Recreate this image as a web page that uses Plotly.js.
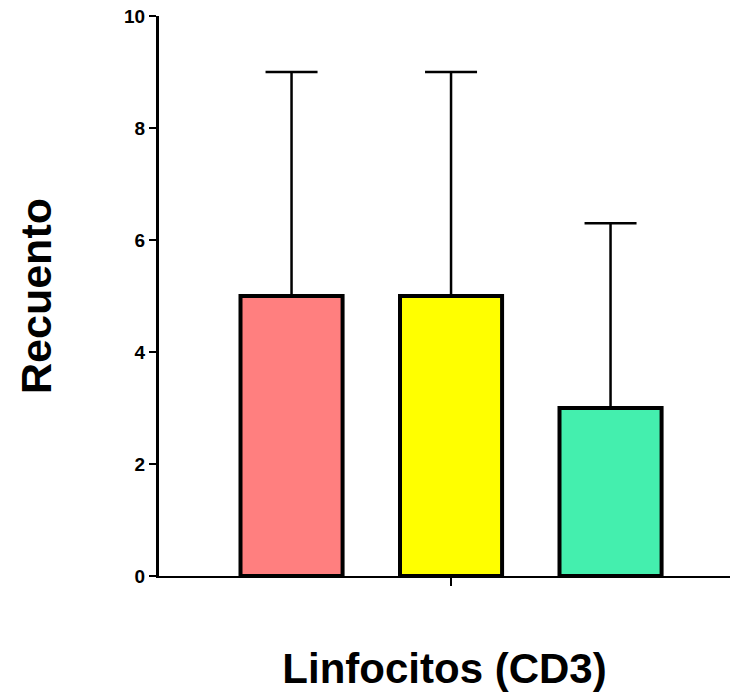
<!DOCTYPE html>
<html>
<head>
<meta charset="utf-8">
<script src="https://cdn.plot.ly/plotly-3.0.1.min.js"></script>
<style>html,body{margin:0;padding:0;background:#fff;}#chart{width:730px;height:695px;}</style>
</head>
<body>
<div id="chart"></div>
<script>
const groups = ["Grupo 1", "Grupo 2", "Grupo 3"];
const means = [5, 5, 3];
const upperLimits = [9, 9, 6.3];
const barColors = ["#FF7F7F", "#FFFF00", "#44EFAE"];
const yTicks = [0, 2, 4, 6, 8, 10];

const xPos = groups.map((g, i) => i);
const errPlus = upperLimits.map((u, i) => +(u - means[i]).toFixed(3));

const trace = {
  type: "bar",
  x: xPos,
  y: means,
  hovertext: groups,
  hoverinfo: "text+y",
  width: 0.64,
  marker: { color: barColors, line: { color: "#000", width: 4 } },
  error_y: {
    type: "data", symmetric: false,
    array: errPlus, arrayminus: means.map(() => 0),
    color: "#000", thickness: 2.5, width: 26
  }
};

const layout = {
  width: 730, height: 695,
  margin: { l: 159, r: 0, t: 16, b: 119 },
  paper_bgcolor: "#fff", plot_bgcolor: "#fff",
  showlegend: false,
  font: { family: "Liberation Sans, Arial, sans-serif", color: "#000" },
  xaxis: {
    range: [-0.831, 2.749],
    tickvals: [1], ticktext: [""],
    ticks: "outside", ticklen: 8, tickwidth: 2, tickcolor: "#000",
    showline: true, linecolor: "#000", linewidth: 2,
    showgrid: false, zeroline: false, fixedrange: true,
    title: { text: "<b>Linfocitos (CD3)</b>", font: { size: 42, color: "#000" }, standoff: 66 }
  },
  yaxis: {
    range: [0, 10],
    tickvals: yTicks, ticktext: yTicks.map(v => "<b>" + v + "</b>"),
    tickfont: { size: 19, color: "#000" },
    ticks: "outside", ticklen: 7, tickwidth: 2.5, tickcolor: "#000",
    showline: true, linecolor: "#000", linewidth: 3,
    showgrid: false, zeroline: false, fixedrange: true,
    title: { text: "<b>Recuento</b>", font: { size: 43, color: "#000" }, standoff: 60 }
  }
};

Plotly.newPlot("chart", [trace], layout, { displayModeBar: false, staticPlot: true });
</script>
</body>
</html>
